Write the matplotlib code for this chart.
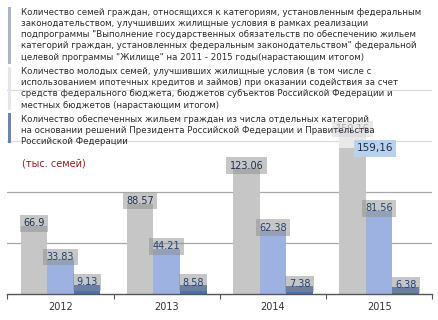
import matplotlib
matplotlib.use("Agg")
import matplotlib.pyplot as plt
from matplotlib.patches import Rectangle

# data
years = ["2012", "2013", "2014", "2015"]
fed_categories = [66.9, 88.57, 123.06, 159.16]
young_families = [33.83, 44.21, 62.38, 81.56]
president_decisions = [9.13, 8.58, 7.38, 6.38]

legend_texts = [
    ["Количество семей граждан, относящихся к категориям, установленным федеральным",
     "законодательством, улучшивших жилищные условия в рамках реализации",
     "подпрограммы \"Выполнение государственных обязательств по обеспечению жильем",
     "категорий граждан, установленных федеральным законодательством\" федеральной",
     "целевой программы \"Жилище\" на 2011 - 2015 годы(нарастающим итогом)"],
    ["Количество молодых семей, улучшивших жилищные условия (в том числе с",
     "использованием ипотечных кредитов и займов) при оказании содействия за счет",
     "средств федерального бюджета, бюджетов субъектов Российской Федерации и",
     "местных бюджетов (нарастающим итогом)"],
    ["Количество обеспеченных жильем граждан из числа отдельных категорий",
     "на основании решений Президента Российской Федерации и Правительства",
     "Российской Федерации"],
]

W, H = 439, 320
fx = lambda x: x / W
fy = lambda y: 1 - y / H

fig = plt.figure(figsize=(W / 100, H / 100), dpi=100)
ax = fig.add_axes([fx(7.3), fy(294), fx(432.3) - fx(7.3), (294 - 49) / H])

series = [fed_categories, young_families, president_decisions]
colors = ["#c6c6c6", "#9db2e0", "#4a70b4"]
text_cols = ["#1c3050", "#1f4278", "#1f4278"]
offsets = [-0.25, 0, 0.25]
for vals, col, tcol, off in zip(series, colors, text_cols, offsets):
    xs = [i + off for i in range(len(years))]
    ax.bar(xs, vals, width=0.25, color=col, zorder=2)
    for x, v in zip(xs, vals):
        ax.annotate(str(v), xy=(x, v), xytext=(0, 1.8), textcoords="offset points",
                    ha="center", va="center", fontsize=7, color=tcol, zorder=3,
                    bbox=dict(boxstyle="square,pad=0.35", fc="#8e8e8e", ec="none", alpha=0.5))

ax.set_xlim(-0.5, 3.5)
ax.set_ylim(0, 240)
ax.set_yticks([50, 100, 150, 200])
ax.yaxis.grid(True, color="#a8a8a8", linewidth=0.9, zorder=0)
ax.set_axisbelow(True)
ax.tick_params(axis="y", length=0, labelleft=False)
ax.set_xticks(range(len(years)))
ax.set_xticklabels(years, fontsize=7, color="#333333")
ax.set_xticks([-0.5, 0.5, 1.5, 2.5, 3.5], minor=True)
ax.tick_params(axis="x", which="major", length=0, pad=6)
ax.tick_params(axis="x", which="minor", length=3.5, direction="out", color="#555555", width=0.8)
for s in ["top", "right", "left"]:
    ax.spines[s].set_visible(False)
ax.spines["bottom"].set_color("#555555")
ax.spines["bottom"].set_linewidth(1.0)

# semi-transparent legend panel over the top of the chart
fig.patches.append(Rectangle((0, fy(148)), 1, 148 / H, transform=fig.transFigure,
                             facecolor="white", alpha=0.62, edgecolor="none", zorder=5))

bar_cols = ["#aeb2c6", "#e4e5ee", "#6a84b9"]
starts = [12.7, 71.7, 119.5]
bar_spans = [(7, 64), (67, 110), (113, 143)]
step = 11.1
for lines, y0, col, (b0, b1) in zip(legend_texts, starts, bar_cols, bar_spans):
    fig.patches.append(Rectangle((fx(8), fy(b1)), 3.5 / W, (b1 - b0) / H,
                                 transform=fig.transFigure, facecolor=col,
                                 edgecolor="none", zorder=6))
    for k, line in enumerate(lines):
        fig.text(fx(21), fy(y0 + k * step), line, fontsize=6.2, color="#2b2b2b",
                 ha="left", va="center", zorder=6)

fig.text(fx(22), fy(163), "(тыс. семей)", fontsize=7, color="#8b2020",
         ha="left", va="center", zorder=6)

# highlighted value box for 2015
fig.text(fx(375), fy(148.5), str(fed_categories[3]).replace(".", ","), fontsize=7.5,
         color="#1a2f50", ha="center", va="center", zorder=7,
         bbox=dict(boxstyle="square,pad=0.3", fc="#b9d1ea", ec="none"))

fig.savefig("out.png", dpi=100)
